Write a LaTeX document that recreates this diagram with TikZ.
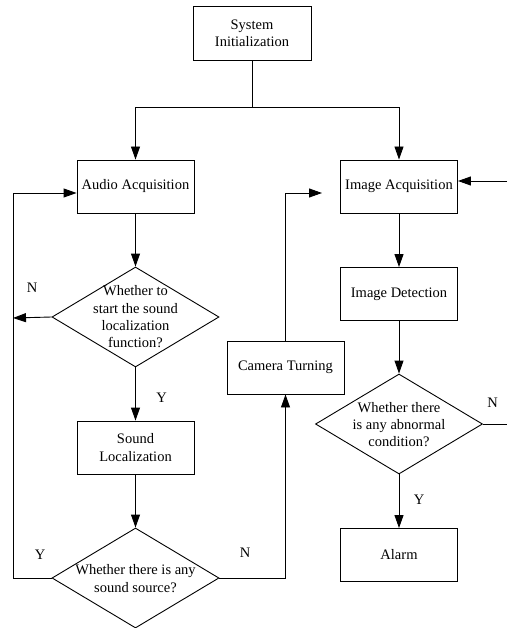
\documentclass[tikz,border=0pt]{standalone}
\usepackage{fontspec}
\setmainfont{Liberation Serif}
\usetikzlibrary{shapes.geometric,arrows.meta}
\begin{document}
\begin{tikzpicture}[x=1pt,y=-1pt,
  font=\fontsize{14.5}{17.3}\selectfont,
  line width=0.9pt,
  box/.style={draw, minimum width=117pt, minimum height=53pt, inner sep=0pt, align=center},
  dia/.style={draw, diamond, minimum width=167pt, minimum height=100pt, inner sep=0pt},
  diatext/.style={align=center, inner sep=0pt},
  lbl/.style={inner sep=0pt},
  arr/.style={-{Triangle[length=13pt,width=9pt]}}]
\useasboundingbox (0,0) rectangle (507,628);

\node[box, minimum width=118pt, minimum height=54pt] (sys) at (252,33) {System\\Initialization};
\node[box] (aud) at (135.5,186.5) {Audio Acquisition};
\node[box] (img) at (399,186.5) {Image Acquisition};
\node[dia] (d1) at (135.5,317) {};
\node[diatext] (d1t) at (135.5,317) {Whether to\\start the sound\\localization\\function?};
\node[box] (snd) at (135.5,447.5) {Sound\\Localization};
\node[dia] (d2) at (135.5,578) {};
\node[diatext] (d2t) at (135.5,578.5) {Whether there is any\\sound source?};
\node[box] (cam) at (285.5,367.5) {Camera Turning};
\node[box] (det) at (399,294) {Image Detection};
\node[dia] (d3) at (399,424) {};
\node[diatext] (d3t) at (399,424.5) {Whether there\\is any abnormal\\condition?};
\node[box] (alm) at (399,555) {Alarm};

\coordinate (split) at (252,107);
\coordinate (lx1) at (13,318);
\coordinate (lx2) at (13,193);
\coordinate (cx) at (285.5,193);
\coordinate (cend) at (322,193);
\coordinate (rx1) at (507,424);
\coordinate (rx2) at (507,181);

\draw (sys.south) -- (split);
\draw[arr] (split) -| (aud.north);
\draw[arr] (split) -| (img.north);
\draw[arr] (aud.south) -- (d1.north);
\draw[arr] (d1.west) -- (lx1);
\draw[arr] (d1.south) -- (snd.north);
\draw[arr] (snd.south) -- (d2.north);
\draw[arr] (d2.west) -| (lx2) -- (lx2 -| aud.west);
\draw[arr] (d2.east) -| (cam.south);
\draw[arr] (cam.north) -- (cx) -- (cend);
\draw[arr] (img.south) -- (det.north);
\draw[arr] (det.south) -- (d3.north);
\draw[arr] (d3.south) -- (alm.north);
\draw (d3.east) -- (rx1);
\draw[arr] (rx2) -- (rx2 -| img.east);

\node[lbl] (n1) at (32,288) {N};
\node[lbl] (y1) at (161.5,397.5) {Y};
\node[lbl] (y2) at (40,555) {Y};
\node[lbl] (n2) at (245,553) {N};
\node[lbl] (n3) at (492.5,402.5) {N};
\node[lbl] (y3) at (419,500) {Y};
\end{tikzpicture}
\end{document}
